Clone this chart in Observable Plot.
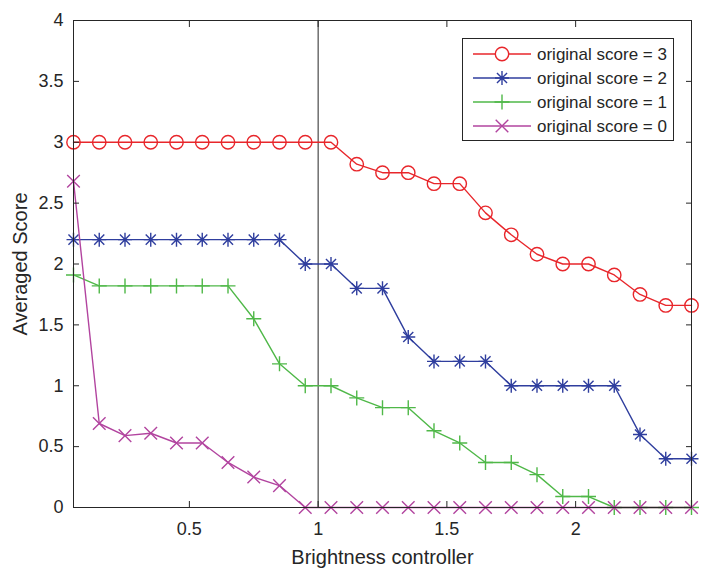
<!DOCTYPE html>
<html><head><meta charset="utf-8">
<script src="https://cdn.jsdelivr.net/npm/d3@7"></script>
<script src="https://cdn.jsdelivr.net/npm/@observablehq/plot@0.6"></script>
<style>
body{margin:0;background:#fff;}
#wrap{position:relative;width:716px;height:584px;font-family:"Liberation Sans",Arial,sans-serif;}
#legend{position:absolute;left:462px;top:38px;}
</style></head><body><div id="wrap"></div>
<script>
// ---- data ----
const brightness = [0.05,0.15,0.25,0.35,0.45,0.55,0.65,0.75,0.85,0.95,1.05,1.15,1.25,1.35,1.45,1.55,1.65,1.75,1.85,1.95,2.05,2.15,2.25,2.35,2.45];
const score3 = [3,3,3,3,3,3,3,3,3,3,3,2.82,2.75,2.75,2.66,2.66,2.42,2.24,2.08,2.0,2.0,1.91,1.75,1.66,1.66];
const score2 = [2.2,2.2,2.2,2.2,2.2,2.2,2.2,2.2,2.2,2.0,2.0,1.8,1.8,1.4,1.2,1.2,1.2,1.0,1.0,1.0,1.0,1.0,0.6,0.4,0.4];
const score1 = [1.91,1.82,1.82,1.82,1.82,1.82,1.82,1.55,1.18,1.0,1.0,0.9,0.82,0.82,0.63,0.53,0.37,0.37,0.27,0.09,0.09,0,0,0,0];
const score0 = [2.68,0.69,0.59,0.61,0.53,0.53,0.37,0.25,0.18,0,0,0,0,0,0,0,0,0,0,0,0,0,0,0,0];
const seriesNames = ["original score = 3","original score = 2","original score = 1","original score = 0"];
const seriesColors = ["#e8262b","#2f3e9e","#4fb848","#b2449f"];
const xTicks = [0.5,1,1.5,2];
const xTickLabels = ["0.5","1","1.5","2"];
const yTicks = [0,0.5,1,1.5,2,2.5,3,3.5,4];
const yTickLabels = ["0","0.5","1","1.5","2","2.5","3","3.5","4"];
const xLabel = "Brightness controller";
const yLabel = "Averaged Score";

// ---- marker shapes (MATLAB-like) ----
const symPlus = {draw(c, s){const r=Math.sqrt(s/Math.PI); c.moveTo(-r,0);c.lineTo(r,0);c.moveTo(0,-r);c.lineTo(0,r);}};
const symTimes = {draw(c, s){const r=Math.sqrt(s/Math.PI); c.moveTo(-r,-r);c.lineTo(r,r);c.moveTo(-r,r);c.lineTo(r,-r);}};
const symStar = {draw(c, s){const r=Math.sqrt(s/Math.PI), q=r*0.72; c.moveTo(-r,0);c.lineTo(r,0);c.moveTo(0,-r);c.lineTo(0,r);c.moveTo(-q,-q);c.lineTo(q,q);c.moveTo(-q,q);c.lineTo(q,-q);}};
const symbols = [d3.symbolCircle, symStar, symPlus, symTimes];
const radii = [6.7, 7, 7.5, 6.3];

const allScores = [score3, score2, score1, score0];
const table = allScores.map(arr => brightness.map((b,i)=>({x:b, y:arr[i]})));

const lineMarks = [];
table.forEach((rows, k) => {
  lineMarks.push(Plot.line(rows, {x:"x", y:"y", stroke:seriesColors[k], strokeWidth:1.4}));
  lineMarks.push(Plot.dot(rows, {x:"x", y:"y", symbol:symbols[k], r:radii[k], fill:"none", stroke:seriesColors[k], strokeWidth:1.4}));
});

const axisColor = "#262626";
const chart = Plot.plot({
  width:716, height:584,
  marginLeft:73, marginRight:25, marginTop:20, marginBottom:77,
  style:{fontFamily:'"Liberation Sans", Arial, sans-serif', background:"#fff", color:axisColor},
  x:{domain:[0.05,2.45], label:null},
  y:{domain:[0,4], label:null},
  marks:[
    Plot.ruleX([1], {stroke:axisColor, strokeWidth:1}),
    ...lineMarks,
    Plot.frame({stroke:axisColor, strokeWidth:1}),
    Plot.axisX({anchor:"bottom", ticks:xTicks, tickSize:-6, tickFormat:()=>"", label:null}),
    Plot.axisX({anchor:"top", ticks:xTicks, tickSize:-6, tickFormat:()=>"", label:null}),
    Plot.axisY({anchor:"left", ticks:yTicks, tickSize:-6, tickFormat:()=>"", label:null}),
    Plot.axisY({anchor:"right", ticks:yTicks, tickSize:-6, tickFormat:()=>"", label:null}),
    Plot.axisX({anchor:"bottom", ticks:xTicks, tickSize:0, tickPadding:15, fontSize:18, label:null,
      tickFormat:d=>xTickLabels[xTicks.indexOf(d)]}),
    Plot.axisY({anchor:"left", ticks:yTicks, tickSize:0, tickPadding:10, fontSize:18, label:null,
      tickFormat:d=>yTickLabels[yTicks.indexOf(d)]}),
    Plot.text([xLabel], {text:d=>d, frameAnchor:"bottom", dy:50, lineAnchor:"middle", textAnchor:"middle", fontSize:20, fill:axisColor}),
    Plot.text([yLabel], {text:d=>d, frameAnchor:"left", dx:-53, rotate:-90, lineAnchor:"middle", textAnchor:"middle", fontSize:20, fill:axisColor})
  ]
});
document.getElementById("wrap").appendChild(chart);

// ---- legend ----
const lw = 212, lh = 103;
const leg = d3.select("#wrap").append("svg").attr("id","legend").attr("width",lw).attr("height",lh);
leg.append("rect").attr("x",0.5).attr("y",0.5).attr("width",lw-1).attr("height",lh-1)
  .attr("fill","#fff").attr("stroke",axisColor).attr("stroke-width",1);
seriesNames.forEach((name,k)=>{
  const cy = 16 + k*24;
  const g = leg.append("g");
  g.append("line").attr("x1",11).attr("x2",69).attr("y1",cy).attr("y2",cy)
    .attr("stroke",seriesColors[k]).attr("stroke-width",1.4);
  g.append("path").attr("transform",`translate(40,${cy})`)
    .attr("d", d3.symbol(symbols[k], Math.PI*radii[k]*radii[k])())
    .attr("fill","#fff").attr("fill-opacity", k===0?1:0).attr("stroke",seriesColors[k]).attr("stroke-width",1.4);
  g.append("text").attr("x",75).attr("y",cy).attr("dy","0.35em")
    .attr("font-size",17).attr("fill",axisColor)
    .attr("font-family",'"Liberation Sans", Arial, sans-serif').text(name);
});
</script>
</body></html>
